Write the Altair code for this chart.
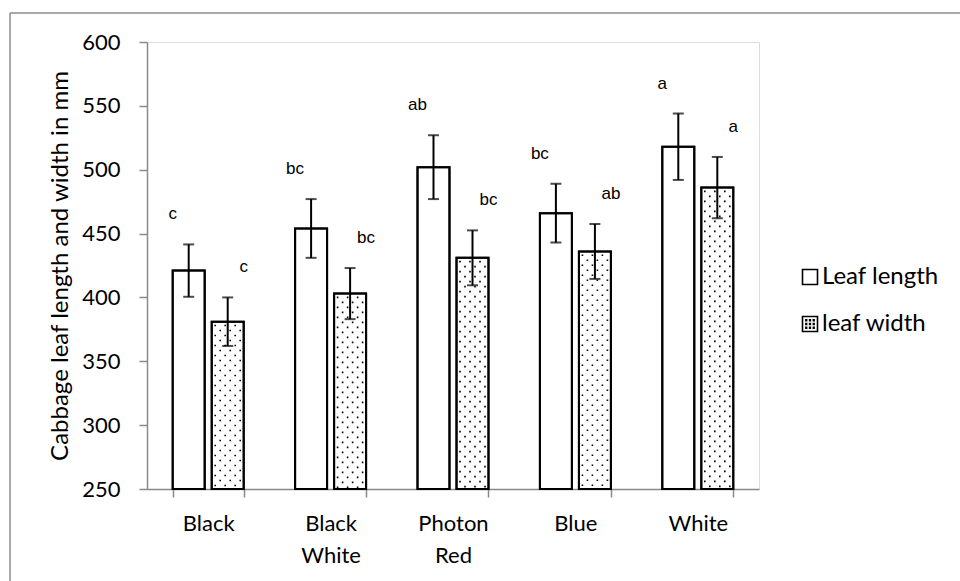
import altair as alt
import pandas as pd

categories = ["Black", "Black White", "Photon Red", "Blue", "White"]
leaf_length = [421, 454, 502, 466, 518]
leaf_length_err = [20.5, 23, 25, 23, 26]
leaf_width = [381, 403, 431, 436, 486]
leaf_width_err = [19, 20, 21.5, 21.5, 24]
length_letters = ["c", "bc", "ab", "bc", "a"]
width_letters = ["c", "bc", "bc", "ab", "a"]
series_names = ["Leaf length", "leaf width"]
y_ticks = [250, 300, 350, 400, 450, 500, 550, 600]
y_min, y_max = 250, 600

rows = []
for i, c in enumerate(categories):
    rows.append(dict(cat=c, series=series_names[0], value=leaf_length[i],
                     err=leaf_length_err[i], letter=length_letters[i]))
    rows.append(dict(cat=c, series=series_names[1], value=leaf_width[i],
                     err=leaf_width_err[i], letter=width_letters[i]))
df = pd.DataFrame(rows)
df["lo"] = df["value"] - df["err"]
df["hi"] = df["value"] + df["err"]

# dot texture columns (pixel offsets from the band start) for the dotted bars
dot_cols = [42.5, 47.5, 52.5, 57.5, 62.5, 67.5]
dot_rows = []
for i, c in enumerate(categories):
    for j, off in enumerate(dot_cols):
        dot_rows.append(dict(cat=c, value=leaf_width[i], off=off, parity=j % 2))
dots = pd.DataFrame(dot_rows)

FONT = "Lato"
AX = "#898989"

xenc = alt.X("cat:N", sort=categories,
             scale=alt.Scale(paddingInner=0.42, paddingOuter=0.21),
             axis=alt.Axis(title=None, labelExpr="split(datum.label, ' ')",
                           labelFont=FONT, labelFontSize=22, labelColor="black",
                           labelAngle=0, labelLineHeight=32, labelPadding=16,
                           labelBaseline="top",
                           domainColor=AX, domainWidth=1.5, tickColor=AX,
                           tickWidth=1.5, tickSize=8, tickBand="extent"))
xoff = alt.XOffset("series:N", sort=series_names,
                   scale=alt.Scale(paddingInner=0.18, paddingOuter=0))
yscale = alt.Scale(domain=[y_min, y_max], zero=False, nice=False)

base = alt.Chart(df)

bars = base.mark_bar(fill="white", stroke="black", strokeWidth=2).encode(
    x=xenc, xOffset=xoff,
    y=alt.Y("value:Q", scale=yscale,
            axis=alt.Axis(values=y_ticks, title="Cabbage leaf length and width in mm",
                          grid=False, labelFont=FONT, labelFontSize=22,
                          labelColor="black", labelPadding=19,
                          titleFont=FONT, titleFontSize=24, titleFontWeight="normal",
                          titleColor="black", titlePadding=9,
                          domainColor=AX, domainWidth=1.5, tickColor=AX,
                          tickWidth=1.5, tickSize=8)),
    y2=alt.datum(y_min),
)

dot_base = alt.Chart(dots).encode(
    x=alt.X("cat:N", sort=categories),
    xOffset=alt.XOffset("off:Q", scale=alt.Scale(domain=[0, 71], range=[0, 71])),
    y=alt.Y("value:Q", scale=yscale),
    y2=alt.datum(y_min),
)
dots_even = dot_base.mark_rule(color="black", strokeWidth=1.6, strokeDash=[1.6, 8.4],
                               strokeCap="butt", strokeDashOffset=-3).transform_filter("datum.parity == 0")
dots_odd = dot_base.mark_rule(color="black", strokeWidth=1.6, strokeDash=[1.6, 8.4],
                              strokeCap="butt", strokeDashOffset=-8).transform_filter("datum.parity == 1")

outline = base.mark_bar(fill="white", fillOpacity=0, stroke="black", strokeWidth=2).encode(
    x=alt.X("cat:N", sort=categories), xOffset=xoff,
    y=alt.Y("value:Q", scale=yscale), y2=alt.datum(y_min))

err_rule = base.mark_rule(color="black", strokeWidth=2).encode(
    x=alt.X("cat:N", sort=categories), xOffset=xoff,
    y=alt.Y("lo:Q", scale=yscale), y2="hi:Q")
cap_hi = base.mark_tick(color="black", size=11, thickness=2).encode(
    x=alt.X("cat:N", sort=categories), xOffset=xoff, y=alt.Y("hi:Q", scale=yscale))
cap_lo = base.mark_tick(color="black", size=11, thickness=2).encode(
    x=alt.X("cat:N", sort=categories), xOffset=xoff, y=alt.Y("lo:Q", scale=yscale))

letters = base.mark_text(font="Liberation Sans", fontSize=17, color="black",
                         baseline="middle", dy=-30).encode(
    x=alt.X("cat:N", sort=categories), xOffset=xoff,
    y=alt.Y("hi:Q", scale=yscale), text="letter:N")

# border (top and left edges visible)
border_top = alt.Chart().mark_rule(color="#8c8c8c", strokeWidth=1.5).encode(
    x=alt.value(-137), x2=alt.value(813), y=alt.value(-29))
border_left = alt.Chart().mark_rule(color="#8c8c8c", strokeWidth=1.5).encode(
    x=alt.value(-137), y=alt.value(-29), y2=alt.value(539))

# legend
sw_len = alt.Chart().mark_point(shape="square", size=225, filled=False,
                                color="black", strokeWidth=1.6, opacity=1).encode(
    x=alt.value(663), y=alt.value(235))
dot_path = ("M-1,-1H1V1H-1Z"
            "M-0.55,-0.55h0.1v0.1h-0.1Z M0.45,-0.55h0.1v0.1h-0.1Z"
            "M-0.05,-0.05h0.1v0.1h-0.1Z"
            "M-0.55,0.45h0.1v0.1h-0.1Z M0.45,0.45h0.1v0.1h-0.1Z"
            "M-0.05,-0.55h0.1v0.1h-0.1Z M-0.05,0.45h0.1v0.1h-0.1Z"
            "M-0.55,-0.05h0.1v0.1h-0.1Z M0.45,-0.05h0.1v0.1h-0.1Z")
sw_wid = alt.Chart().mark_point(shape=dot_path, size=225, filled=False,
                                color="black", strokeWidth=1.6, opacity=1).encode(
    x=alt.value(663), y=alt.value(282))
lg_len = alt.Chart().mark_text(text=series_names[0], font=FONT, fontSize=24,
                               align="left", baseline="middle", color="black").encode(
    x=alt.value(675), y=alt.value(235))
lg_wid = alt.Chart().mark_text(text=series_names[1], font=FONT, fontSize=24,
                               align="left", baseline="middle", color="black").encode(
    x=alt.value(675), y=alt.value(282))

chart = alt.layer(
    bars, dots_even, dots_odd, outline, err_rule, cap_hi, cap_lo, letters,
    border_top, border_left, sw_len, sw_wid, lg_len, lg_wid
).resolve_scale(xOffset="independent").properties(
    width=612, height=447,
    autosize=alt.AutoSizeParams(type="none"),
    padding={"left": 147, "top": 42, "right": 201, "bottom": 92},
).configure_view(stroke=None).configure(background="white")

chart.save("out.html", embed_options={"renderer": "svg", "actions": False})
